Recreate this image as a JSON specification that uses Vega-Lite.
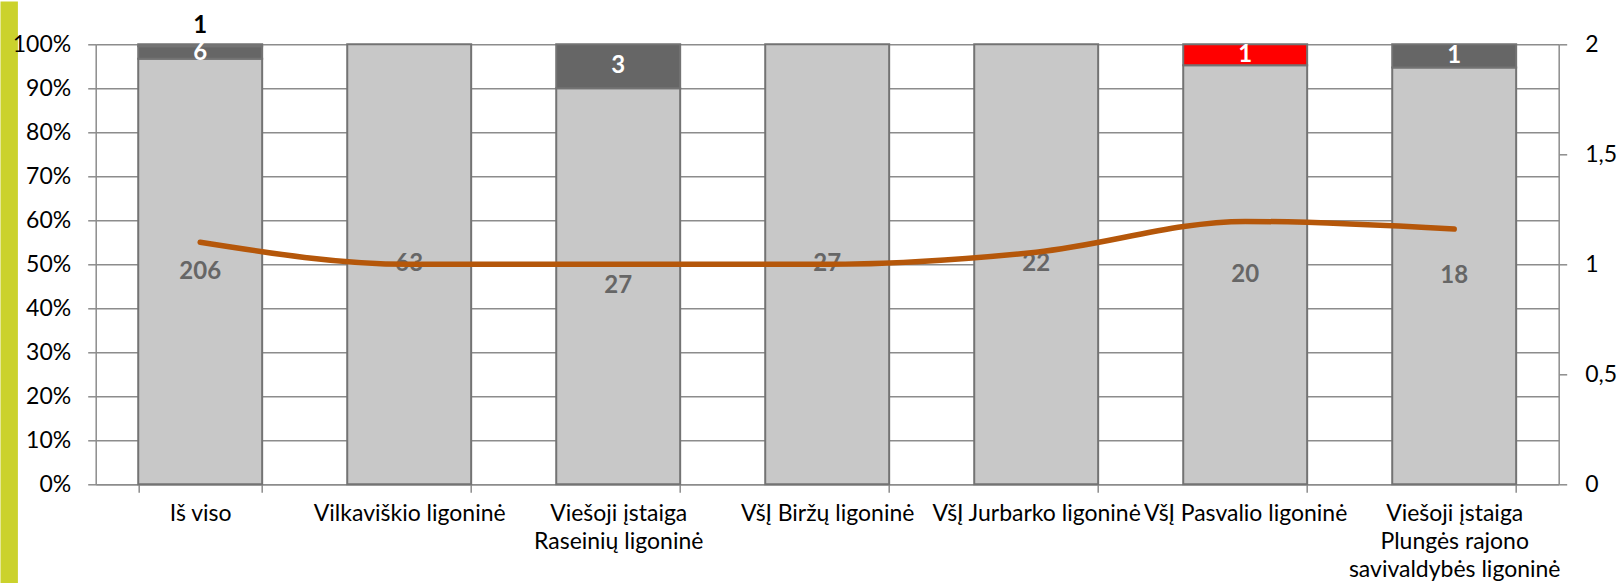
{
  "$schema": "https://vega.github.io/schema/vega-lite/v6.json",
  "padding": {"top": 14.3, "left": 8.7, "right": 0, "bottom": 0},
  "background": "white",
  "width": 1463,
  "height": 440,
  "view": {"stroke": null},
  "datasets": {
    "bars": [
      {"cat": "Iš viso", "grupe": "a", "n": 206},
      {"cat": "Iš viso", "grupe": "b", "n": 6},
      {"cat": "Iš viso", "grupe": "c", "n": 1},
      {"cat": "Vilkaviškio ligoninė", "grupe": "a", "n": 63},
      {"cat": "Viešoji įstaiga Raseinių ligoninė", "grupe": "a", "n": 27},
      {"cat": "Viešoji įstaiga Raseinių ligoninė", "grupe": "b", "n": 3},
      {"cat": "VšĮ Biržų ligoninė", "grupe": "a", "n": 27},
      {"cat": "VšĮ Jurbarko ligoninė", "grupe": "a", "n": 22},
      {"cat": "VšĮ Pasvalio ligoninė", "grupe": "a", "n": 20},
      {"cat": "VšĮ Pasvalio ligoninė", "grupe": "c", "n": 1},
      {"cat": "Viešoji įstaiga Plungės rajono savivaldybės ligoninė", "grupe": "a", "n": 18},
      {"cat": "Viešoji įstaiga Plungės rajono savivaldybės ligoninė", "grupe": "b", "n": 1}
    ],
    "line": [
      {"cat": "Iš viso", "r": 1.1},
      {"cat": "Vilkaviškio ligoninė", "r": 1.0},
      {"cat": "Viešoji įstaiga Raseinių ligoninė", "r": 1.0},
      {"cat": "VšĮ Biržų ligoninė", "r": 1.0},
      {"cat": "VšĮ Jurbarko ligoninė", "r": 1.055},
      {"cat": "VšĮ Pasvalio ligoninė", "r": 1.195},
      {"cat": "Viešoji įstaiga Plungės rajono savivaldybės ligoninė", "r": 1.16}
    ],
    "juosta": [{"v": 0}]
  },
  "resolve": {"scale": {"y": "independent"}},
  "layer": [
    {
      "data": {"name": "juosta"},
      "mark": {"type": "point", "opacity": 0},
      "encoding": {
        "y": {
          "field": "v", "type": "quantitative",
          "scale": {"domain": [0, 1], "range": [539.7, -43.3]},
          "axis": {
            "orient": "left", "offset": 87, "title": null, "labels": false, "ticks": false, "grid": false,
            "domain": true, "domainColor": "#CBD22C", "domainWidth": 17.4, "domainCap": "butt"
          }
        }
      }
    },
    {
      "data": {"name": "bars"},
      "mark": {"type": "bar", "stroke": "#737373", "strokeWidth": 2},
      "encoding": {
        "x": {
          "field": "cat", "type": "nominal", "sort": null,
          "scale": {"paddingInner": 0.407, "paddingOuter": 0.2035},
          "axis": {
            "title": null, "labelAngle": 0, "tickBand": "extent", "grid": true,
            "labelLimit": 0, "labelLineHeight": 28, "labelPadding": 10, "labelFontSize": 23,
            "labelExpr": "datum.label == 'Viešoji įstaiga Raseinių ligoninė' ? ['Viešoji įstaiga', 'Raseinių ligoninė'] : datum.label == 'Viešoji įstaiga Plungės rajono savivaldybės ligoninė' ? ['Viešoji įstaiga', 'Plungės rajono', 'savivaldybės ligoninė'] : datum.label"
          }
        },
        "y": {
          "aggregate": "sum", "field": "n", "type": "quantitative", "stack": "normalize",
          "scale": {"domain": [0, 1]},
          "axis": {"orient": "left", "title": null, "format": ".0%", "values": [0, 0.1, 0.2, 0.3, 0.4, 0.5, 0.6, 0.7, 0.8, 0.9, 1], "grid": true, "labelPadding": 17}
        },
        "color": {
          "field": "grupe", "type": "nominal",
          "scale": {"domain": ["a", "b", "c"], "range": ["#C8C8C8", "#666666", "#FF0000"]},
          "legend": null
        },
        "order": {"field": "grupe", "sort": "ascending"}
      }
    },
    {
      "data": {"name": "bars"},
      "transform": [
        {"stack": "n", "groupby": ["cat"], "sort": [{"field": "grupe"}], "offset": "normalize", "as": ["p0", "p1"]},
        {"calculate": "(datum.p0 + datum.p1) / 2", "as": "mid"},
        {"filter": "!(datum.cat == 'Iš viso' && datum.grupe == 'c')"}
      ],
      "mark": {"type": "text", "fontSize": 24, "fontWeight": "bold", "baseline": "middle"},
      "encoding": {
        "x": {"field": "cat", "type": "nominal", "sort": null},
        "y": {"field": "mid", "type": "quantitative", "scale": {"domain": [0, 1]}, "axis": null},
        "text": {"field": "n", "type": "quantitative"},
        "color": {"condition": {"test": "datum.grupe == 'a'", "value": "#666666"}, "value": "#FFFFFF"}
      }
    },
    {
      "data": {"name": "bars"},
      "transform": [
        {"stack": "n", "groupby": ["cat"], "sort": [{"field": "grupe"}], "offset": "normalize", "as": ["p0", "p1"]},
        {"filter": "datum.cat == 'Iš viso' && datum.grupe == 'c'"}
      ],
      "mark": {"type": "text", "fontSize": 24, "fontWeight": "bold", "baseline": "alphabetic", "dy": -11, "color": "#000000"},
      "encoding": {
        "x": {"field": "cat", "type": "nominal", "sort": null},
        "y": {"field": "p1", "type": "quantitative", "scale": {"domain": [0, 1]}, "axis": null},
        "text": {"field": "n", "type": "quantitative"}
      }
    },
    {
      "data": {"name": "line"},
      "mark": {"type": "line", "color": "#B5570A", "strokeWidth": 5.5, "interpolate": "monotone", "strokeCap": "round"},
      "encoding": {
        "x": {"field": "cat", "type": "nominal", "sort": null},
        "y": {
          "field": "r", "type": "quantitative",
          "scale": {"domain": [0, 2]},
          "axis": {"orient": "right", "title": null, "grid": false, "values": [0, 0.5, 1, 1.5, 2], "format": ".1~f", "labelExpr": "replace(datum.label, '.', ',')", "labelPadding": 18}
        }
      }
    }
  ],
  "config": {
    "font": "Lato",
    "axis": {
      "labelFont": "Lato", "labelFontSize": 23, "labelColor": "#000000",
      "domainColor": "#8C8C8C", "domainWidth": 1.5,
      "tickColor": "#8C8C8C", "tickWidth": 1.5, "tickSize": 8,
      "gridColor": "#8C8C8C", "gridWidth": 1.5, "gridOpacity": 1
    }
  }
}
